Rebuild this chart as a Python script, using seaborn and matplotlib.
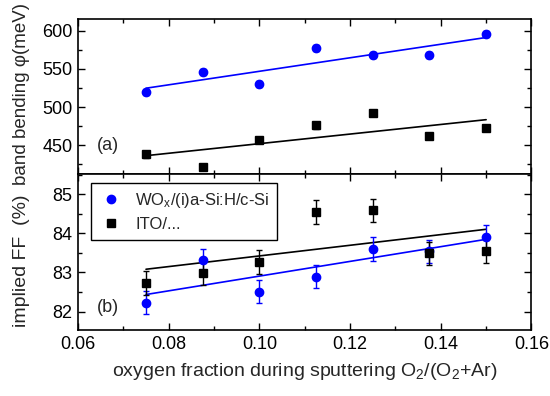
import numpy as np
import seaborn as sns
import matplotlib.pyplot as plt
from matplotlib.ticker import MultipleLocator

# oxygen fraction O2/(O2+Ar)
o2_frac = [0.075, 0.0875, 0.100, 0.1125, 0.125, 0.1375, 0.150]

# (a) band bending (meV)
bb_wox = [520, 546, 530, 578, 568, 568, 596]
bb_ito = [438, 422, 457, 476, 492, 462, 473]
bb_err = 4

# (b) implied FF (%)
iff_wox = [82.23, 83.31, 82.51, 82.89, 83.60, 83.54, 83.91]
iff_ito = [82.73, 82.98, 83.27, 84.55, 84.59, 83.49, 83.54]
iff_err = 0.3

labels = ["WO$_x$/(i)a-Si:H/c-Si", "ITO/..."]
blue = "#0000ff"
black = "#000000"

sns.set_style("ticks")
plt.rcParams['font.family'] = ['Liberation Sans', 'DejaVu Sans']
plt.rcParams['mathtext.fontset'] = 'custom'
plt.rcParams['mathtext.rm'] = 'Liberation Sans'
plt.rcParams['mathtext.it'] = 'Liberation Sans'
plt.rcParams['font.size'] = 13

fs = 13   # tick labels, panel tags
lfs = 14  # axis labels

fig = plt.figure(figsize=(5.5, 3.96), dpi=100)
ax1 = fig.add_axes([0.1418, 0.5598, 0.8245, 0.3914])
ax2 = fig.add_axes([0.1418, 0.1659, 0.8245, 0.3939], sharex=ax1)

# panel (a)
sns.regplot(x=o2_frac, y=bb_wox, ax=ax1, scatter=False, ci=None,
            line_kws=dict(color=blue, lw=1.2))
sns.regplot(x=o2_frac, y=bb_ito, ax=ax1, scatter=False, ci=None,
            line_kws=dict(color=black, lw=1.2))
ax1.errorbar(o2_frac, bb_wox, yerr=bb_err, fmt='o', color=blue, ms=6,
             capsize=2, elinewidth=1)
ax1.errorbar(o2_frac, bb_ito, yerr=bb_err, fmt='s', color=black, ms=5.5,
             capsize=2, elinewidth=1)
ax1.set_ylim(412, 615)
ax1.yaxis.set_major_locator(MultipleLocator(50))
ax1.yaxis.set_minor_locator(MultipleLocator(25))
ax1.set_ylabel("band bending \u03c6(meV)", fontsize=13.5)
ax1.yaxis.set_label_coords(-0.106, 0.515)
ax1.text(0.042, 0.183, "(a)", transform=ax1.transAxes, fontsize=fs,
         va='center')
ax1.tick_params(labelbottom=False)

# panel (b)
sns.regplot(x=o2_frac, y=iff_ito, ax=ax2, scatter=False, ci=None,
            line_kws=dict(color=black, lw=1.2))
sns.regplot(x=o2_frac, y=iff_wox, ax=ax2, scatter=False, ci=None,
            line_kws=dict(color=blue, lw=1.2))
ax2.errorbar(o2_frac, iff_wox, yerr=iff_err, fmt='o', color=blue, ms=6,
             capsize=2, elinewidth=1, label=labels[0])
ax2.errorbar(o2_frac, iff_ito, yerr=iff_err, fmt='s', color=black, ms=5.5,
             capsize=2, elinewidth=1, label=labels[1])
ax2.set_ylim(81.52, 85.51)
ax2.yaxis.set_major_locator(MultipleLocator(1))
ax2.yaxis.set_minor_locator(MultipleLocator(0.5))
ax2.set_ylabel("implied FF  (%)", fontsize=lfs)
ax2.yaxis.set_label_coords(-0.106, 0.447)
ax2.text(0.042, 0.145, "(b)", transform=ax2.transAxes, fontsize=fs,
         va='center')

ax2.set_xlim(0.06, 0.16)
ax2.xaxis.set_major_locator(MultipleLocator(0.02))
ax2.xaxis.set_minor_locator(MultipleLocator(0.01))
ax2.xaxis.set_major_formatter(plt.FormatStrFormatter('%.2f'))
ax2.set_xlabel("oxygen fraction during sputtering O$_2$/(O$_2$+Ar)",
               fontsize=lfs, labelpad=6)

h, l = ax2.get_legend_handles_labels()
h = [hh[0] for hh in h]
leg = ax2.legend(h, l, loc='upper left', bbox_to_anchor=(0.0287, 0.944),
                 borderaxespad=0, fancybox=False, edgecolor='black',
                 framealpha=1, fontsize=12, handletextpad=0.7,
                 borderpad=0.45, handlelength=1.5, labelspacing=0.45)
leg.get_frame().set_linewidth(1)

for ax in (ax1, ax2):
    for s in ax.spines.values():
        s.set_visible(True)
        s.set_linewidth(1.2)
        s.set_color('black')
    ax.tick_params(which='both', direction='in', top=True, right=True,
                   colors='black', labelsize=fs, width=1, pad=4)
    ax.tick_params(which='major', length=5)
    ax.tick_params(which='minor', length=3)

fig.savefig("out.png", dpi=100)
